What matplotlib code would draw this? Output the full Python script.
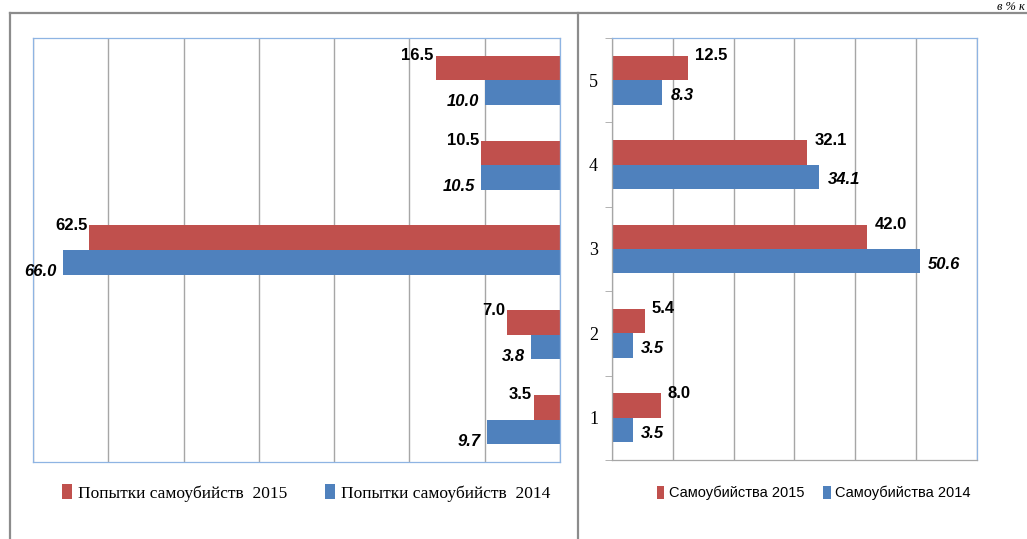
import matplotlib
matplotlib.use("Agg")
import matplotlib.pyplot as plt
from matplotlib.lines import Line2D
import numpy as np

# data (groups 1..5, drawn bottom to top)
groups = [1, 2, 3, 4, 5]
attempts_2015 = [3.5, 7.0, 62.5, 10.5, 16.5]
attempts_2014 = [9.7, 3.8, 66.0, 10.5, 10.0]
suicides_2015 = [8.0, 5.4, 42.0, 32.1, 12.5]
suicides_2014 = [3.5, 3.5, 50.6, 34.1, 8.3]

RED = "#C0504D"
BLUE = "#4F81BD"
GRID = "#A6A6A6"
SPINE = "#8EB4E3"
SANS = ["Liberation Sans", "DejaVu Sans"]
SERIF = ["Liberation Serif", "DejaVu Serif"]

fig = plt.figure(figsize=(10.27, 5.39), dpi=100)
ax_l = fig.add_axes([0.0321, 0.1429, 0.5131, 0.7866])
ax_r = fig.add_axes([0.5959, 0.1466, 0.3554, 0.7829])

y = np.arange(len(groups))
h = 0.29


def style_axes(ax, xmax):
    ax.set_xlim(0, xmax)
    ax.set_ylim(-0.5, len(groups) - 0.5)
    ax.set_xticks(np.arange(0, xmax + 1, 10))
    ax.xaxis.grid(True, color=GRID, linewidth=1.0)
    ax.set_axisbelow(True)
    ax.tick_params(axis="x", length=0, labelbottom=False)
    for s in ax.spines.values():
        s.set_color(SPINE)
        s.set_linewidth(0.9)


def px(dx, dy):
    return dict(textcoords="offset pixels", xytext=(dx, dy))


lbl = dict(fontsize=12, fontweight="bold", family=SANS)

# left chart: attempts, axis reversed
ax_l.barh(y + h / 2, attempts_2015, height=h, color=RED, label="Попытки самоубийств  2015")
ax_l.barh(y - h / 2, attempts_2014, height=h, color=BLUE, label="Попытки самоубийств  2014")
style_axes(ax_l, 70)
ax_l.invert_xaxis()
ax_l.set_yticks([])
for yi, v in zip(y, attempts_2015):
    ax_l.annotate(f"{v:.1f}", (v, yi + h), ha="right", va="center", **lbl, **px(-2, 0))
for yi, v in zip(y, attempts_2014):
    ax_l.annotate(f"{v:.1f}", (v, yi - h), ha="right", va="center", fontstyle="italic",
                  **lbl, **px(-6, 3))
ax_l.legend(loc="center", bbox_to_anchor=(0.518, -0.073), ncol=2, frameon=False,
            handlelength=0.6, handleheight=0.9, handletextpad=0.3, columnspacing=2.2,
            prop={"family": SERIF, "size": 12.5})

# right chart: suicides
ax_r.barh(y + h / 2, suicides_2015, height=h, color=RED, label="Самоубийства 2015")
ax_r.barh(y - h / 2, suicides_2014, height=h, color=BLUE, label="Самоубийства 2014")
style_axes(ax_r, 60)
ax_r.spines["left"].set_color(GRID)
ax_r.spines["bottom"].set_color(GRID)
ax_r.set_yticks(y)
ax_r.set_yticklabels([str(g) for g in groups], family=SERIF, fontsize=13)
ax_r.set_yticks(np.arange(-0.5, len(groups)), minor=True)
ax_r.tick_params(axis="y", which="major", length=0, pad=10)
ax_r.tick_params(axis="y", which="minor", length=5, color=GRID)
for yi, v in zip(y, suicides_2015):
    ax_r.annotate(f"{v:.1f}", (v, yi + h), ha="left", va="center", **lbl, **px(7, 0))
for yi, v in zip(y, suicides_2014):
    ax_r.annotate(f"{v:.1f}", (v, yi - h / 2), ha="left", va="center", fontstyle="italic",
                  **lbl, **px(8, -3))
ax_r.legend(loc="center", bbox_to_anchor=(0.553, -0.078), ncol=2, frameon=False,
            handlelength=0.5, handleheight=1.0, handletextpad=0.3, columnspacing=1.3,
            prop={"family": SANS, "size": 10.5})

# panel frames
frame = dict(color="#8C8C8C", linewidth=1.6, transform=fig.transFigure)
top = 1 - 13 / 539
fig.add_artist(Line2D([10 / 1027, 1], [top, top], **frame))
fig.add_artist(Line2D([10 / 1027, 10 / 1027], [0, top], **frame))
fig.add_artist(Line2D([578 / 1027, 578 / 1027], [0, top], **frame))
fig.text(0.998, 0.999, "в % к", ha="right", va="top", fontsize=9,
         fontstyle="italic", family=SERIF)

fig.savefig("out.png", dpi=100)
